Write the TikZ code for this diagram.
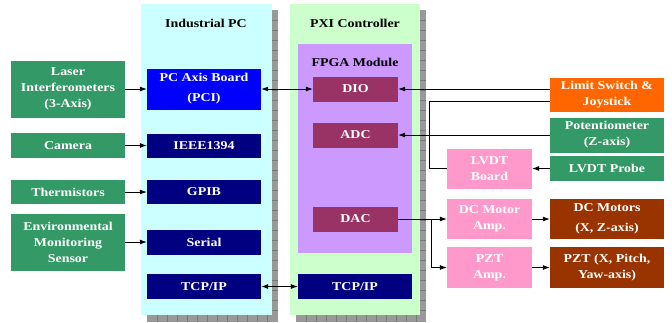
\documentclass[tikz,border=0pt]{standalone}
\usepackage{fontspec}
\setmainfont{Liberation Serif}[FakeStretch=1.16]
\usepackage{tikz}
\usetikzlibrary{arrows.meta}

\begin{document}
\begin{tikzpicture}[x=1pt,y=-1pt,
  every node/.style={font=\bfseries\fontsize{12}{16}\selectfont, align=center, inner sep=0pt},
  blk/.style={text=white, minimum height=25pt},
  sensor/.style={blk, fill=sensorgreen, minimum width=114pt},
  pcport/.style={blk, fill=portnavy, minimum width=114pt},
  fpgaio/.style={blk, fill=iomaroon, minimum width=85pt},
  ampbox/.style={blk, fill=amppink, minimum width=85pt},
  actbox/.style={blk, fill=actbrown, minimum width=114pt},
  link/.style={line width=0.8pt, -{Latex[length=7pt,width=5pt]}},
  duplex/.style={line width=0.8pt, {Latex[length=7pt,width=5pt]}-{Latex[length=7pt,width=5pt]}},
  wire/.style={line width=0.8pt}]

\definecolor{pcpanel}{RGB}{204,255,255}
\definecolor{pxipanel}{RGB}{204,255,204}
\definecolor{fpgapanel}{RGB}{204,153,255}
\definecolor{shadowgray}{RGB}{153,153,153}
\definecolor{shadowline}{RGB}{120,120,120}
\definecolor{sensorgreen}{RGB}{51,153,102}
\definecolor{axisblue}{RGB}{0,0,255}
\definecolor{portnavy}{RGB}{0,0,128}
\definecolor{iomaroon}{RGB}{153,51,102}
\definecolor{limitorange}{RGB}{255,102,0}
\definecolor{amppink}{RGB}{255,153,204}
\definecolor{actbrown}{RGB}{153,51,0}

\useasboundingbox (0,0) rectangle (672,322);

% panel shadows
\fill[shadowgray] (147,10) rectangle (278,322);
\fill[shadowgray] (296,10) rectangle (426,322);
\foreach \y in {20,30,...,310} {
  \draw[shadowline] (272,\y) -- (278,\y);
  \draw[shadowline] (420,\y) -- (426,\y);
}
\foreach \x in {157,167,...,267} \draw[shadowline] (\x,315) -- (\x,322);
\foreach \x in {306,316,...,416} \draw[shadowline] (\x,315) -- (\x,322);

% panels
\fill[pcpanel] (141,4) rectangle (272,315);
\fill[pxipanel] (290,4) rectangle (420,315);
\fill[fpgapanel] (298,44) rectangle (412,253);

\node (pctitle) at (206,23) {Industrial PC};
\node (pxititle) at (355,23) {PXI Controller};
\node (fpgatitle) at (355,62) {FPGA Module};

% sensors
\node[sensor, minimum height=57pt] (laser) at (68,89) {Laser\\Interferometers\\(3-Axis)};
\node[sensor] (camera) at (68,145.5) {Camera};
\node[sensor, minimum height=24pt] (therm) at (68,192) {Thermistors};
\node[sensor, minimum height=57pt] (envsens) at (68,242) {Environmental\\Monitoring\\Sensor};

% industrial pc
\node[pcport, fill=axisblue, minimum height=41pt] (axisboard) at (204,89) {PC Axis Board\\[4pt](PCI)};
\node[pcport, minimum height=24pt] (ieee) at (204,145.5) {IEEE1394};
\node[pcport, minimum height=24pt] (gpib) at (204,192) {GPIB};
\node[pcport] (serial) at (204,242) {Serial};
\node[pcport] (pctcp) at (204,286.5) {TCP/IP};

% pxi controller
\node[fpgaio] (dio) at (355.5,89) {DIO};
\node[fpgaio] (adc) at (355.5,135) {ADC};
\node[fpgaio] (dac) at (355.5,219) {DAC};
\node[pcport] (pxitcp) at (355,286.5) {TCP/IP};

% right hand side
\node[blk, fill=limitorange, minimum width=114pt, minimum height=34pt] (limitsw) at (607,95) {Limit Switch \&\\Joystick};
\node[sensor, minimum height=35pt] (potmeter) at (607,135) {Potentiometer\\(Z-axis)};
\node[sensor] (lvdtprobe) at (607,168.5) {LVDT Probe};
\node[ampbox, minimum height=40pt] (lvdtboard) at (489.5,168.5) {LVDT\\Board};
\node[ampbox, minimum height=40pt] (dcamp) at (489.5,219) {DC Motor\\Amp.};
\node[ampbox, minimum height=41pt] (pztamp) at (489.5,267.5) {PZT\\Amp.};
\node[actbox, minimum height=40pt] (dcmotors) at (607,219) {DC Motors\\[4pt](X, Z-axis)};
\node[actbox, minimum height=41pt] (pztstage) at (607,267.5) {PZT (X, Pitch,\\Yaw-axis)};

% connections
\draw[link] (laser) -- (axisboard);
\draw[link] (camera) -- (ieee);
\draw[link] (therm) -- (gpib);
\draw[link] (envsens) -- (serial);
\draw[duplex] (axisboard) -- (dio);
\draw[duplex] (pctcp) -- (pxitcp);

\draw[link] (limitsw.west |- dio) -- (dio);
\draw[link] (potmeter) -- (adc);
\draw[link] (lvdtprobe) -- (lvdtboard);
\draw[wire] (lvdtboard.west) -- ++(-17,0) |- ([yshift=-6pt]limitsw.west);

\coordinate (dacsplit) at (431,219);
\draw[wire] (dac) -- (dacsplit);
\draw[link] (dacsplit) -- (dcamp);
\draw[link] (dacsplit) |- (pztamp);
\draw[link] (dcamp) -- (dcmotors);
\draw[link] (pztamp) -- (pztstage);

\end{tikzpicture}
\end{document}
